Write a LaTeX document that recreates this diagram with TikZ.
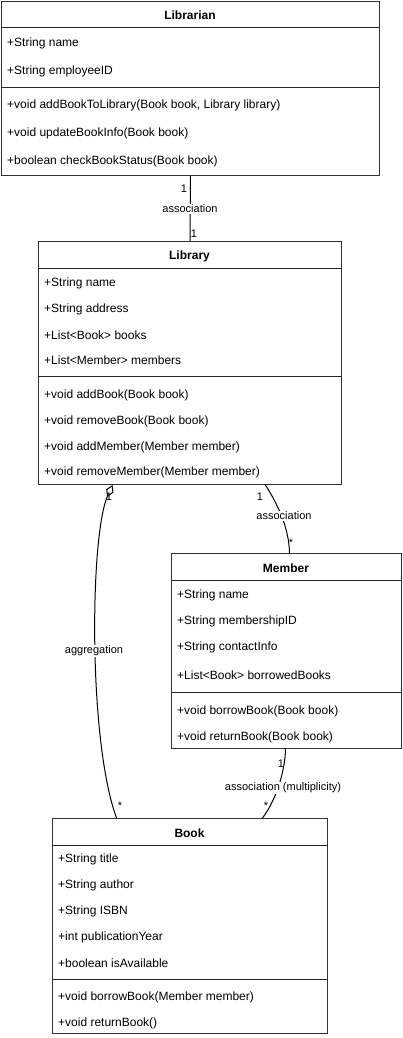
\documentclass[tikz,border=0pt]{standalone}
\usepackage{fontspec}
\setmainfont{Liberation Sans}
\usetikzlibrary{arrows.meta}
\begin{document}
\begin{tikzpicture}[x=1pt,y=-1pt,
  box/.style={draw=black!80, line width=1pt, fill=white, inner sep=0pt, anchor=north west},
  sep/.style={draw=black!85, line width=1pt},
  hdr/.style={inner sep=0pt, yshift=-1pt, font=\bfseries\fontsize{12}{14}\selectfont},
  attr/.style={anchor=west, inner sep=0pt, yshift=-1pt, font=\fontsize{12}{14}\selectfont},
  lbl/.style={inner sep=1pt, font=\fontsize{11}{13}\selectfont},
  lblbg/.style={lbl, fill=white},
  conn/.style={line width=1pt}]
\useasboundingbox (0,0) rectangle (402,1038);

% Librarian
\node[box, minimum width=378pt, minimum height=174pt] (librarian) at (1,1) {};
\node[hdr] (librarianT) at (190,14) {Librarian};
\draw[sep] (librarian.west |- 0,28) -- (librarian.east |- 0,28);
\node[attr] (la1) at (7,42) {+String name};
\node[attr] (la2) at (7,70) {+String employeeID};
\draw[sep] (librarian.west |- 0,88) -- (librarian.east |- 0,88);
\node[attr] (lm1) at (7,104) {+void addBookToLibrary(Book book, Library library)};
\node[attr] (lm2) at (7,132) {+void updateBookInfo(Book book)};
\node[attr] (lm3) at (7,160) {+boolean checkBookStatus(Book book)};

% Library
\node[box, minimum width=303pt, minimum height=243pt] (library) at (38,241) {};
\node[hdr] (libraryT) at (189.5,255) {Library};
\draw[sep] (library.west |- 0,268) -- (library.east |- 0,268);
\node[attr] (ba1) at (44,282) {+String name};
\node[attr] (ba2) at (44,308) {+String address};
\node[attr] (ba3) at (44,334) {+List<Book> books};
\node[attr] (ba4) at (44,359) {+List<Member> members};
\draw[sep] (library.west |- 0,376) -- (library.east |- 0,376);
\node[attr] (bm1) at (44,394) {+void addBook(Book book)};
\node[attr] (bm2) at (44,420) {+void removeBook(Book book)};
\node[attr] (bm3) at (44,446) {+void addMember(Member member)};
\node[attr] (bm4) at (44,471) {+void removeMember(Member member)};

% Member
\node[box, minimum width=230pt, minimum height=195pt] (member) at (171,553) {};
\node[hdr] (memberT) at (286,567) {Member};
\draw[sep] (member.west |- 0,580) -- (member.east |- 0,580);
\node[attr] (ma1) at (177,594) {+String name};
\node[attr] (ma2) at (177,620) {+String membershipID};
\node[attr] (ma3) at (177,646) {+String contactInfo};
\node[attr] (ma4) at (177,674) {+List<Book> borrowedBooks};
\draw[sep] (member.west |- 0,692) -- (member.east |- 0,692);
\node[attr] (mm1) at (177,710) {+void borrowBook(Book book)};
\node[attr] (mm2) at (177,736) {+void returnBook(Book book)};

% Book
\node[box, minimum width=275pt, minimum height=215pt] (book) at (52,818) {};
\node[hdr] (bookT) at (189.5,832) {Book};
\draw[sep] (book.west |- 0,845) -- (book.east |- 0,845);
\node[attr] (ka1) at (58,858) {+String title};
\node[attr] (ka2) at (58,884) {+String author};
\node[attr] (ka3) at (58,910) {+String ISBN};
\node[attr] (ka4) at (58,936) {+int publicationYear};
\node[attr] (ka5) at (58,962) {+boolean isAvailable};
\draw[sep] (book.west |- 0,979) -- (book.east |- 0,979);
\node[attr] (km1) at (58,996) {+void borrowBook(Member member)};
\node[attr] (km2) at (58,1022) {+void returnBook()};

% Librarian -- Library
\draw[conn] (librarian.south) -- (library.north);
\node[lbl] (c1a) at (184,189) {1};
\node[lblbg] (c1b) at (190,209) {association};
\node[lbl] (c1c) at (194,234) {1};

% Library -- Member
\draw[conn] ([xshift=75.5pt]library.south) .. controls (278,505) and (289,528) .. ([xshift=3pt]member.north);
\node[lbl] (c2a) at (260,497) {1};
\node[lblbg] (c2b) at (284,516) {association};
\node[lbl] (c2c) at (291,543) {*};

% Member -- Book
\draw[conn] ([xshift=-1pt]member.south) .. controls (285,772) and (276,800) .. ([xshift=72.5pt]book.north);
\node[lbl] (c3a) at (281,764) {1};
\node[lblbg] (c3b) at (283,788) {association (multiplicity)};
\node[lbl] (c3c) at (266,806) {*};

% Aggregation Library <>-- Book
\draw[conn, {Diamond[open,length=13pt,width=8pt]}-] ([xshift=-77.5pt]library.south) .. controls (90,535) and (88,740) .. ([xshift=-73.5pt]book.north);
\node[lbl] (c4a) at (109,497) {1};
\node[lblbg] (c4b) at (94,651) {aggregation};
\node[lbl] (c4c) at (120,806) {*};
\end{tikzpicture}
\end{document}
